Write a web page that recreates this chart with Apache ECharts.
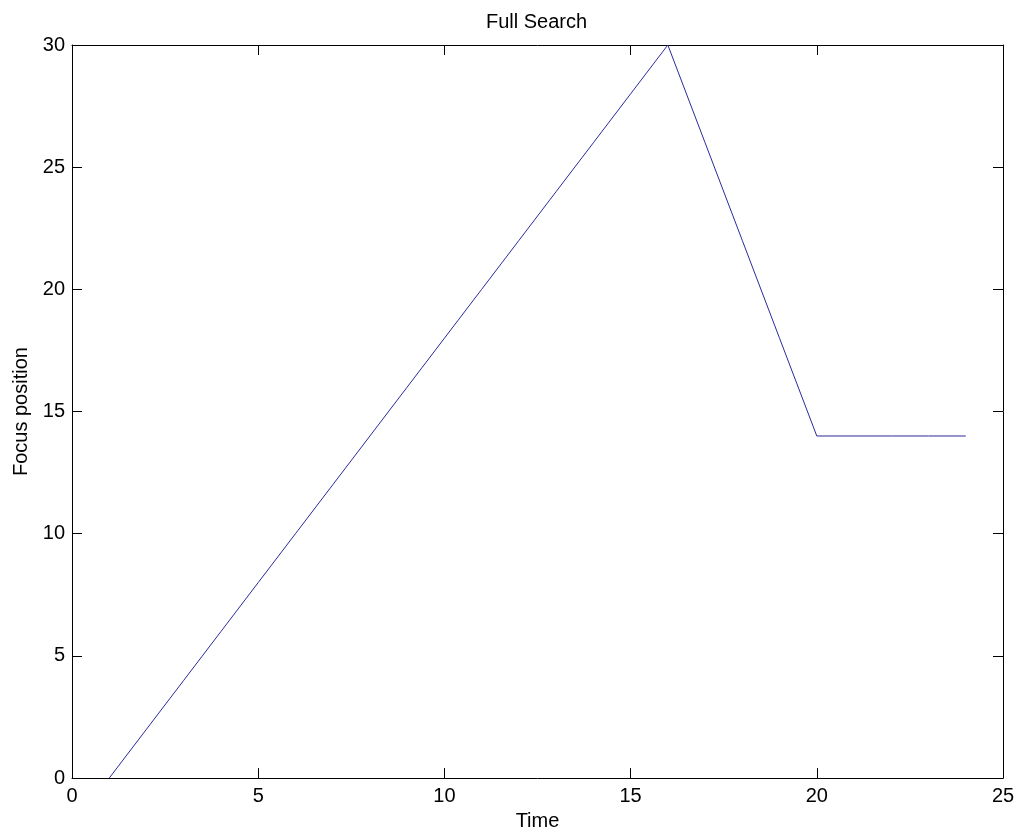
<!DOCTYPE html>
<html>
<head>
<meta charset="utf-8">
<script src="https://cdn.jsdelivr.net/npm/echarts@6/dist/echarts.min.js"></script>
<style>
html,body{margin:0;padding:0;background:#fff;}
#chart{width:1018px;height:836px;}
</style>
</head>
<body>
<div id="chart"></div>
<script>
var timeSteps = [1,2,3,4,5,6,7,8,9,10,11,12,13,14,15,16,17,18,19,20,21,22,23,24];
var focusPosition = [0,2,4,6,8,10,12,14,16,18,20,22,24,26,28,30,26,22,18,14,14,14,14,14];
var xTicks = [0,5,10,15,20,25];
var yTicks = [0,5,10,15,20,25,30];

var font = 'Liberation Sans, Arial, sans-serif';
var chart = echarts.init(document.getElementById('chart'));
var axisLine = {show:true, onZero:false, lineStyle:{color:'#000', width:1}};
var tick = {show:true, inside:true, length:10, lineStyle:{color:'#000', width:1}};
chart.setOption({
  backgroundColor:'#fff',
  animation:false,
  title:{text:'Full Search', left:481, top:7, textStyle:{fontFamily:font, fontSize:20, fontWeight:'normal', color:'#000'}},
  grid:{left:72, right:15, top:45, bottom:56, containLabel:false},
  xAxis:[{
    type:'value', min:xTicks[0], max:xTicks[xTicks.length-1], interval:5, position:'bottom',
    name:'Time', nameLocation:'middle', nameGap:22,
    nameTextStyle:{fontFamily:font, fontSize:20, color:'#000'},
    axisLine:axisLine, axisTick:tick, splitLine:{show:false},
    axisLabel:{fontFamily:font, fontSize:20, color:'#000', margin:8}
  },{
    type:'value', min:xTicks[0], max:xTicks[xTicks.length-1], interval:5, position:'top',
    axisLine:axisLine, axisTick:tick, splitLine:{show:false}, axisLabel:{show:false}
  }],
  yAxis:[{
    type:'value', min:yTicks[0], max:yTicks[yTicks.length-1], interval:5, position:'left',
    name:'Focus position', nameLocation:'middle', nameGap:41,
    nameTextStyle:{fontFamily:font, fontSize:20, color:'#000'},
    axisLine:axisLine, axisTick:tick, splitLine:{show:false},
    axisLabel:{fontFamily:font, fontSize:20, color:'#000', margin:7}
  },{
    type:'value', min:yTicks[0], max:yTicks[yTicks.length-1], interval:5, position:'right',
    axisLine:axisLine, axisTick:tick, splitLine:{show:false}, axisLabel:{show:false}
  }],
  series:[{
    type:'line',
    data:timeSteps.map(function(t,i){return [t, focusPosition[i]];}),
    showSymbol:false, symbol:'none',
    lineStyle:{color:'#2b2b9a', width:1},
    xAxisIndex:0, yAxisIndex:0
  }]
});
</script>
</body>
</html>
